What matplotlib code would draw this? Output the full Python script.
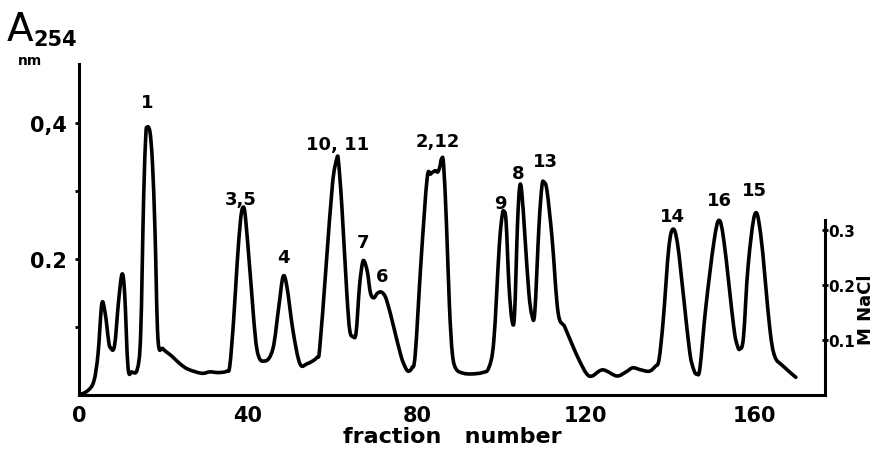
import numpy as np
import matplotlib.pyplot as plt
from matplotlib.path import Path
from matplotlib.patches import PathPatch

# elution profile (fraction number, A254)
fraction = [0, 2, 3.5, 4.5, 5.4, 6.2, 7.0, 7.4, 8.4, 9.4, 10.2, 10.8, 11.6, 12.5, 13.8, 14.6,
            15.3, 15.8, 16.1, 16.8, 17.4, 18.0, 18.7, 19.9, 22.0, 23.9, 25.8, 29.0,
            31.0, 33.0, 35.0, 35.7, 36.6, 37.4, 38.2, 38.8, 39.4, 40.5, 42.1, 44.0, 45.9,
            47.3, 48.3, 49.2, 50.7, 52.3, 54.0, 56.3, 57.0, 58.5, 60.0, 61.0, 61.4,
            62.2, 63.4, 64.1, 64.9, 65.6, 66.4, 67.1, 67.6, 68.3, 69.0, 69.8, 70.7, 71.7, 72.8,
            74.5, 76.2, 77.3, 78.0, 78.8, 79.6, 81.0, 82.4, 83.2, 84.3, 84.9, 85.4, 85.8, 86.3,
            87.0, 87.7, 88.4, 89.3, 91.0, 93.0, 95.5, 97.0, 98.2, 99.5, 100.2, 100.6, 101.1,
            101.8, 102.5, 103.1, 103.8, 104.3, 104.8, 105.6, 106.5, 107.2, 107.9, 108.9, 109.6,
            110.1, 110.8, 112.0, 113.4, 115.0, 116.9, 118.5, 120.2, 121.5, 124.0, 127.3, 129.5,
            131.1, 133.0, 135.0, 136.4, 137.3, 138.3, 139.6, 140.6, 141.7, 143.2, 144.6,
            145.6, 146.3, 147.0, 148.4, 150.3, 151.5, 152.7, 155.0, 155.9, 156.5, 157.3,
            158.4, 160.0, 161.4, 163.5, 164.7, 166.6, 169.7]
a254 = [0.000, 0.006, 0.020, 0.060, 0.134, 0.120, 0.080, 0.070, 0.072, 0.140, 0.178, 0.150,
        0.041, 0.034, 0.038, 0.090, 0.290, 0.380, 0.394, 0.387, 0.340, 0.240, 0.082, 0.068,
        0.057, 0.046, 0.038, 0.032, 0.034, 0.033, 0.035, 0.043, 0.110, 0.190, 0.255, 0.276,
        0.262, 0.180, 0.068, 0.050, 0.068, 0.130, 0.174, 0.160, 0.093, 0.046, 0.046, 0.055,
        0.070, 0.190, 0.310, 0.347, 0.345, 0.280, 0.150, 0.095, 0.086, 0.092, 0.160, 0.194,
        0.196, 0.180, 0.150, 0.143, 0.150, 0.151, 0.140, 0.100, 0.058, 0.040, 0.035, 0.040,
        0.060, 0.200, 0.318, 0.325, 0.330, 0.328, 0.335, 0.347, 0.340, 0.250, 0.130, 0.060,
        0.038, 0.032, 0.031, 0.033, 0.040, 0.080, 0.220, 0.265, 0.270, 0.255, 0.160, 0.110,
        0.118, 0.250, 0.305, 0.300, 0.230, 0.150, 0.118, 0.122, 0.250, 0.308, 0.313, 0.300,
        0.230, 0.122, 0.100, 0.072, 0.050, 0.031, 0.028, 0.037, 0.028, 0.034, 0.040, 0.037,
        0.035, 0.042, 0.052, 0.110, 0.215, 0.244, 0.222, 0.140, 0.062, 0.036, 0.031, 0.040,
        0.130, 0.225, 0.257, 0.225, 0.100, 0.072, 0.068, 0.085, 0.190, 0.266, 0.235, 0.100,
        0.057, 0.043, 0.026]

# peak annotations (label, fraction, A254)
peak_names = ["1", "3,5", "4", "10, 11", "7", "6", "2,12", "9", "8", "13", "14", "16", "15"]
peak_x = [16.1, 38.4, 48.5, 61.1, 67.2, 71.7, 85.0, 99.7, 103.9, 110.5, 140.6, 151.7, 160.0]
peak_y = [0.431, 0.288, 0.203, 0.369, 0.225, 0.175, 0.374, 0.282, 0.326, 0.344, 0.263, 0.287, 0.301]

xticks = [0, 40, 80, 120, 160]
yticks = [0.1, 0.2, 0.3, 0.4]
ylabels = ["", "0.2", "", "0,4"]
nacl_ticks = [0.1, 0.2, 0.3]


def smooth_path(xs, ys):
    # draw the traced points as a smooth Catmull-Rom curve (cubic Bezier segments)
    p = np.column_stack([xs, ys])
    p = np.vstack([p[0], p, p[-1]])
    verts = [p[1]]
    codes = [Path.MOVETO]
    for i in range(1, len(p) - 2):
        c1 = p[i] + (p[i + 1] - p[i - 1]) / 6
        c2 = p[i + 1] - (p[i + 2] - p[i]) / 6
        verts += [c1, c2, p[i + 1]]
        codes += [Path.CURVE4] * 3
    return Path(verts, codes)


fig = plt.figure(figsize=(8.77, 4.56), dpi=100)
ax = fig.add_axes([79 / 877, 1 - 396 / 456, (825 - 79) / 877, (396 - 65) / 456])
ax.add_patch(PathPatch(smooth_path(fraction, a254), fill=False, edgecolor="black",
                       lw=2.6, joinstyle="round", capstyle="round"))

ax.set_xlim(0, 176.6)
ax.set_ylim(0, 0.487)
for s in ["top", "right"]:
    ax.spines[s].set_visible(False)
for s in ["left", "bottom"]:
    ax.spines[s].set_linewidth(2.2)

ax.set_xticks(xticks)
ax.set_xticklabels([str(t) for t in xticks], fontsize=15, fontweight="bold")
ax.tick_params(axis="x", length=0, pad=7)
ax.set_yticks(yticks)
ax.set_yticklabels(ylabels, fontsize=15, fontweight="bold")
ax.tick_params(axis="y", length=3, width=2, pad=6)
ax.set_xlabel("fraction   number", fontsize=16, fontweight="bold", labelpad=1)

for name, x, y in zip(peak_names, peak_x, peak_y):
    ax.text(x, y, name, ha="center", va="center", fontsize=13, fontweight="bold")

ax2 = ax.twinx()
ax2.set_ylim(0, 0.602)
for s in ["top", "left", "bottom"]:
    ax2.spines[s].set_visible(False)
ax2.spines["right"].set_linewidth(2.2)
ax2.spines["right"].set_bounds(0, 0.318)
ax2.set_yticks(nacl_ticks)
ax2.set_yticklabels(["0.1", "0.2", "0.3"], fontsize=11, fontweight="bold")
ax2.tick_params(axis="y", length=5, width=2, direction="inout", pad=0)
ax2.set_ylabel("M NaCl", fontsize=13, fontweight="bold", rotation=90, labelpad=-4)
ax2.yaxis.set_label_coords(1.043, 0.26)

fig.text(7 / 877, 1 - 30 / 456, "A", fontsize=28, va="center", ha="left")
fig.text(33 / 877, 1 - 40 / 456, "254", fontsize=15, fontweight="bold", va="center", ha="left")
fig.text(18 / 877, 1 - 61 / 456, "nm", fontsize=10, fontweight="bold", va="center", ha="left")

fig.savefig("out.png", dpi=100)
